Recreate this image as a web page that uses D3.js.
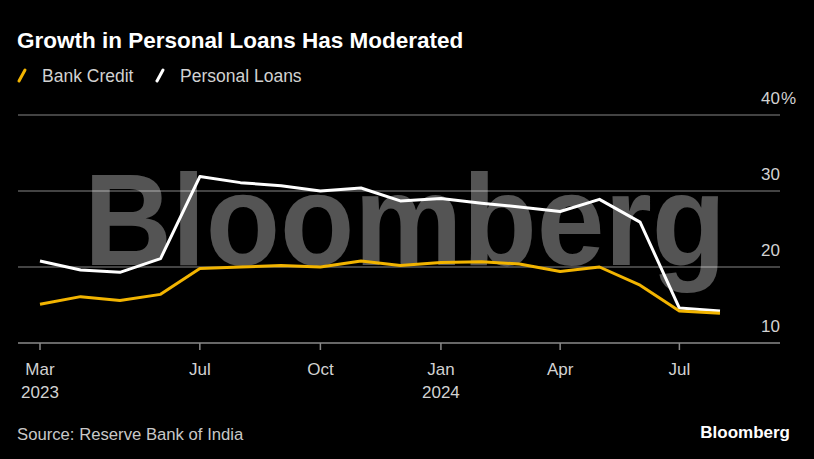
<!DOCTYPE html>
<html>
<head>
<meta charset="utf-8">
<script src="https://cdn.jsdelivr.net/npm/d3@7"></script>
<style>
  html, body { margin: 0; padding: 0; background: #000; }
  svg { display: block; }
</style>
</head>
<body>
<svg id="chart" width="814" height="459"></svg>
<script>
const months = ["2023-03","2023-04","2023-05","2023-06","2023-07","2023-08","2023-09","2023-10","2023-11","2023-12",
                "2024-01","2024-02","2024-03","2024-04","2024-05","2024-06","2024-07","2024-08"];
const bankCredit    = [15.1, 16.1, 15.6, 16.4, 19.8, 20.0, 20.2, 20.0, 20.8, 20.2, 20.6, 20.7, 20.4, 19.4, 20.0, 17.6, 14.2, 13.9];
const personalLoans = [20.8, 19.6, 19.3, 21.1, 31.9, 31.1, 30.7, 30.0, 30.4, 28.7, 29.0, 28.4, 27.9, 27.3, 28.9, 25.9, 14.6, 14.2];
const yTicks = [10, 20, 30, 40];
const xTicks = ["2023-03","2023-07","2023-10","2024-01","2024-04","2024-07"];
const seriesNames = ["Bank Credit", "Personal Loans"];
const colors = ["#f2b400", "#ffffff"];

const parse = d3.timeParse("%Y-%m");
const svg = d3.select("#chart");
const font = "'Liberation Sans', Arial, Helvetica, sans-serif";
const labelColor = "#d2d2d2";

svg.append("rect").attr("width", 814).attr("height", 459).attr("fill", "#000");

const x = d3.scaleTime().domain([parse(months[0]), parse(months[months.length - 1])]).range([40, 720]);
const y = d3.scaleLinear().domain([10, 40]).range([343, 115]);

// title
svg.append("text").attr("x", 17).attr("y", 48)
  .attr("fill", "#fff").attr("font-family", font).attr("font-weight", "bold")
  .attr("font-size", 22.5).text("Growth in Personal Loans Has Moderated");

// legend
const legendX = [17, 155];
seriesNames.forEach((n, i) => {
  const g = svg.append("g").attr("transform", `translate(${legendX[i]},0)`);
  g.append("line").attr("x1", 2).attr("y1", 81).attr("x2", 8).attr("y2", 70)
    .attr("stroke", colors[i]).attr("stroke-width", 3).attr("stroke-linecap", "round");
  g.append("text").attr("x", 25).attr("y", 82).attr("fill", labelColor)
    .attr("font-family", font).attr("font-size", 17.5).text(n);
});

// gridlines + y labels
yTicks.forEach(t => {
  svg.append("line").attr("x1", 18).attr("x2", 780).attr("y1", y(t)).attr("y2", y(t))
    .attr("stroke", t === 10 ? "#8a8a8a" : "#5a5a5a").attr("stroke-width", 1.5);
  svg.append("text").attr("x", 780).attr("y", y(t) - 11)
    .attr("fill", labelColor).attr("font-family", font).attr("font-size", 17)
    .attr("text-anchor", "end").text(t);
  if (t === 40) {
    svg.append("text").attr("x", 781).attr("y", y(t) - 11)
      .attr("fill", labelColor).attr("font-family", font).attr("font-size", 17).text("%");
  }
});

// watermark
svg.append("text").attr("transform", "translate(84,265) scale(0.936,1)")
  .attr("fill", "#fff").attr("fill-opacity", 0.33)
  .attr("font-family", font).attr("font-weight", "bold")
  .attr("font-size", 130).text("Bloomberg");

// x axis ticks & labels
xTicks.forEach(m => {
  const d = parse(m), px = x(d);
  svg.append("line").attr("x1", px).attr("x2", px).attr("y1", 343).attr("y2", 350)
    .attr("stroke", "#8a8a8a").attr("stroke-width", 1.5);
  svg.append("text").attr("x", px).attr("y", 375).attr("text-anchor", "middle")
    .attr("fill", labelColor).attr("font-family", font).attr("font-size", 17)
    .text(d3.timeFormat("%b")(d));
  if (d.getMonth() === 0 || m === xTicks[0]) {
    svg.append("text").attr("x", px).attr("y", 398).attr("text-anchor", "middle")
      .attr("fill", labelColor).attr("font-family", font).attr("font-size", 17)
      .text(d3.timeFormat("%Y")(d));
  }
});

// lines
const line = d3.line().x((d, i) => x(parse(months[i]))).y(d => y(d)).curve(d3.curveLinear);
[personalLoans, bankCredit].forEach((s, k) => {
  svg.append("path").datum(s).attr("d", line).attr("fill", "none")
    .attr("stroke", k === 0 ? colors[1] : colors[0]).attr("stroke-width", 3)
    .attr("stroke-linejoin", "round");
});

// footer
svg.append("text").attr("x", 17).attr("y", 440).attr("fill", "#c8c8c8")
  .attr("font-family", font).attr("font-size", 16.7).text("Source: Reserve Bank of India");
svg.append("text").attr("x", 790).attr("y", 438).attr("text-anchor", "end").attr("fill", "#fff")
  .attr("font-family", font).attr("font-weight", "bold").attr("font-size", 17).text("Bloomberg");
</script>
</body>
</html>
